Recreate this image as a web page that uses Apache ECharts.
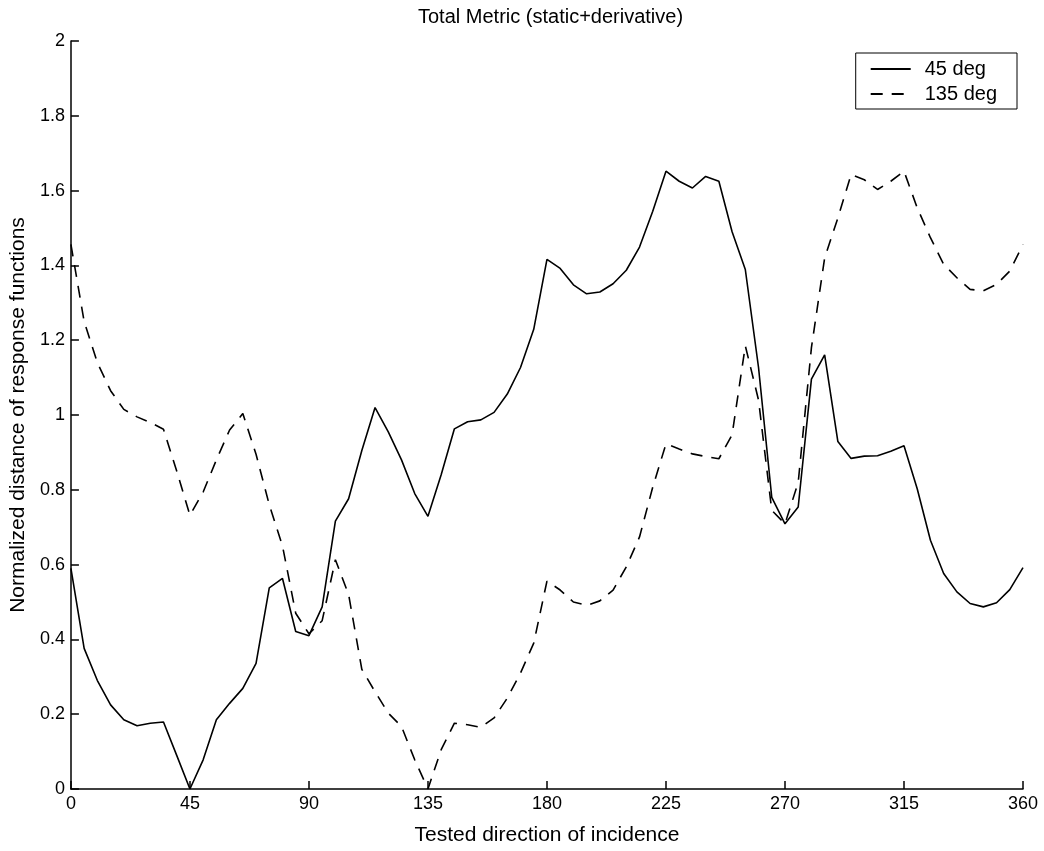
<!DOCTYPE html>
<html>
<head>
<meta charset="utf-8">
<script src="https://cdn.jsdelivr.net/npm/echarts@6/dist/echarts.min.js"></script>
<style>
  html, body { margin: 0; padding: 0; background: #fff; }
  #chart { width: 1044px; height: 851px; }
</style>
</head>
<body>
<div id="chart"></div>
<script>
// tested direction of incidence (deg)
var angles = [0, 5, 10, 15, 20, 25, 30, 35, 40, 45, 50, 55, 60, 65, 70, 75, 80, 85, 90,
  95, 100, 105, 110, 115, 120, 125, 130, 135, 140, 145, 150, 155, 160, 165, 170, 175, 180,
  185, 190, 195, 200, 205, 210, 215, 220, 225, 230, 235, 240, 245, 250, 255, 260, 265, 270,
  275, 280, 285, 290, 295, 300, 305, 310, 315, 320, 325, 330, 335, 340, 345, 350, 355, 360];

// 45 deg response (solid)
var dist45 = [0.590, 0.376, 0.290, 0.225, 0.185, 0.169, 0.176, 0.179, 0.090, 0.000,
  0.078, 0.185, 0.229, 0.269, 0.336, 0.538, 0.563, 0.421, 0.410,
  0.487, 0.716, 0.776, 0.905, 1.020, 0.955, 0.880, 0.790, 0.729, 0.840, 0.963, 0.982,
  0.987, 1.007, 1.056, 1.127, 1.229, 1.416,
  1.392, 1.348, 1.324, 1.329, 1.351, 1.387, 1.449, 1.545, 1.652, 1.625, 1.607, 1.638,
  1.625, 1.490, 1.389, 1.127, 0.780, 0.709,
  0.754, 1.096, 1.161, 0.929, 0.884, 0.890, 0.891, 0.903, 0.918, 0.803, 0.665, 0.576,
  0.527, 0.496, 0.487, 0.498, 0.533, 0.592];

// 135 deg response (dashed)
var dist135 = [1.456, 1.250, 1.140, 1.065, 1.015, 0.995, 0.980, 0.962, 0.850, 0.732,
  0.794, 0.880, 0.960, 1.004, 0.895, 0.760, 0.650, 0.470, 0.415,
  0.450, 0.613, 0.520, 0.320, 0.260, 0.203, 0.167, 0.078, 0.000, 0.105, 0.176, 0.172,
  0.165, 0.190, 0.243, 0.310, 0.390, 0.556,
  0.532, 0.500, 0.491, 0.503, 0.532, 0.594, 0.674, 0.807, 0.923, 0.909, 0.896, 0.889,
  0.883, 0.947, 1.185, 1.040, 0.745, 0.709,
  0.820, 1.180, 1.420, 1.527, 1.643, 1.629, 1.603, 1.625, 1.652, 1.554, 1.474, 1.403,
  1.367, 1.336, 1.332, 1.349, 1.385, 1.456];

var seriesNames = ['45 deg', '135 deg'];

function pairs(xs, ys) {
  var out = [];
  for (var i = 0; i < xs.length; i++) out.push([xs[i], ys[i]]);
  return out;
}

var font = "'Liberation Sans', Arial, Helvetica, sans-serif";
var myChart = echarts.init(document.getElementById('chart'), null, { renderer: 'canvas' });

var axisCommon = {
  axisLine: { show: true, onZero: false, lineStyle: { color: '#000', width: 1.5 } },
  axisTick: { show: true, inside: true, length: 8, lineStyle: { color: '#000', width: 1.5 } },
  axisLabel: { color: '#000', fontFamily: font, fontSize: 18, margin: 6 },
  splitLine: { show: false }
};

myChart.setOption({
  backgroundColor: '#fff',
  animation: false,
  title: {
    text: 'Total Metric (static+derivative)',
    left: 413,
    top: 2,
    textStyle: { color: '#000', fontFamily: font, fontSize: 20, fontWeight: 'normal' }
  },
  legend: {
    data: seriesNames,
    orient: 'vertical',
    right: 27,
    top: 53,
    backgroundColor: '#fff',
    borderColor: '#000',
    borderWidth: 1,
    padding: [6, 20, 5, 14],
    itemGap: 5,
    itemWidth: 40,
    itemHeight: 14,
    itemStyle: { opacity: 0 },
    textStyle: { color: '#000', fontFamily: font, fontSize: 20, padding: [0, 0, 0, 9] }
  },
  grid: { left: 69, right: 21, top: 41, bottom: 58, containLabel: false },
  xAxis: Object.assign({}, axisCommon, {
    type: 'value',
    min: 0,
    max: 360,
    interval: 45,
    name: 'Tested direction of incidence',
    nameLocation: 'middle',
    nameGap: 36,
    nameTextStyle: { color: '#000', fontFamily: font, fontSize: 21 }
  }),
  yAxis: Object.assign({}, axisCommon, {
    type: 'value',
    min: 0,
    max: 2,
    interval: 0.2,
    name: 'Normalized distance of response functions',
    nameLocation: 'middle',
    nameGap: 30,
    nameTextStyle: { color: '#000', fontFamily: font, fontSize: 21 }
  }),
  series: [
    {
      name: seriesNames[0],
      type: 'line',
      data: pairs(angles, dist45),
      showSymbol: false,
      symbol: 'none',
      lineStyle: { color: '#000', width: 1.6, type: 'solid' },
      itemStyle: { color: '#000' }
    },
    {
      name: seriesNames[1],
      type: 'line',
      data: pairs(angles, dist135),
      showSymbol: false,
      symbol: 'none',
      lineStyle: { color: '#000', width: 1.6, type: [12, 9] },
      itemStyle: { color: '#000' }
    }
  ]
});
</script>
</body>
</html>
